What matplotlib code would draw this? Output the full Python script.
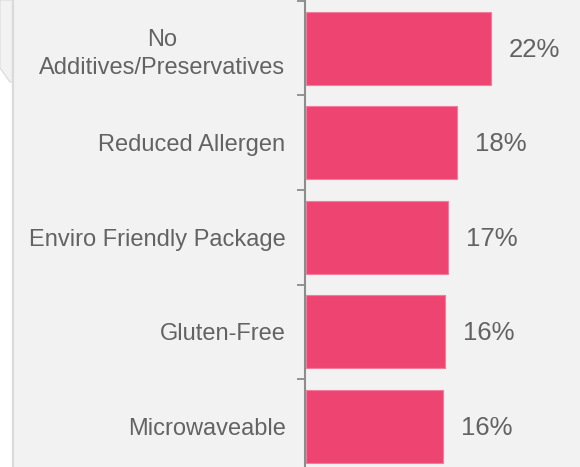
import numpy as np
import matplotlib.pyplot as plt
from matplotlib.patches import Polygon, Rectangle
from matplotlib.lines import Line2D

plt.rcParams['font.family'] = ['Liberation Sans', 'DejaVu Sans']

categories = ['No\nAdditives/Preservatives', 'Reduced Allergen', 'Enviro Friendly Package',
              'Gluten-Free', 'Microwaveable']
values = [22.0, 18.0, 16.9, 16.5, 16.3]
labels = ['22%', '18%', '17%', '16%', '16%']

W, H = 580, 467
fig = plt.figure(figsize=(W / 100, H / 100), dpi=100)
fig.patch.set_facecolor('#F2F2F2')

# white strip + border on the left, like the slide frame
fig.patches.append(Rectangle((0, 0), 12.5 / W, 1, transform=fig.transFigure,
                             facecolor='white', edgecolor='none', zorder=0))
fig.patches.append(Polygon([(0, 1), (12.5 / W, 1), (12.5 / W, 1 - 82 / H), (10 / W, 1 - 82 / H),
                            (0, 1 - 68 / H)], closed=True, transform=fig.transFigure,
                           facecolor='#F2F2F2', edgecolor='#DEDEDE', lw=1, zorder=0))
fig.lines.append(Line2D([12.5 / W, 12.5 / W], [0, 1], transform=fig.transFigure,
                        color='#DADADA', lw=1.6))

top = 1 - 1 / H
bottom = (H - 473.5) / H
ax = fig.add_axes([305 / W, bottom, 275 / W, top - bottom])
ax.set_facecolor('#F2F2F2')

y = np.arange(len(categories))
ax.barh(y, values, height=0.77, left=0.1, color='#EE4472', edgecolor='#F27C9C', lw=0.8)

for yi, v, lab in zip(y, values, labels):
    ax.annotate(lab, (v + 0.1, yi), xytext=(13, -1), textcoords='offset points',
                va='center', ha='left', fontsize=18.5, color='#636363')

ax.set_xlim(0, 32.7)
ax.set_ylim(4.5, -0.5)
ax.set_xticks([])
ax.set_yticks(y)
ax.set_yticklabels(categories, fontsize=17, color='#636363', multialignment='center',
                   linespacing=1.35)
ax.set_yticks(np.arange(-0.5, 5.0, 1.0), minor=True)
ax.tick_params(axis='y', which='major', length=0, pad=14)
ax.tick_params(axis='y', which='minor', length=6, width=1.3, color='#8C8C8C')

for s in ['top', 'right', 'bottom']:
    ax.spines[s].set_visible(False)
ax.spines['left'].set_color('#8C8C8C')
ax.spines['left'].set_linewidth(1.5)

fig.savefig('out.png', dpi=100, facecolor=fig.get_facecolor())
